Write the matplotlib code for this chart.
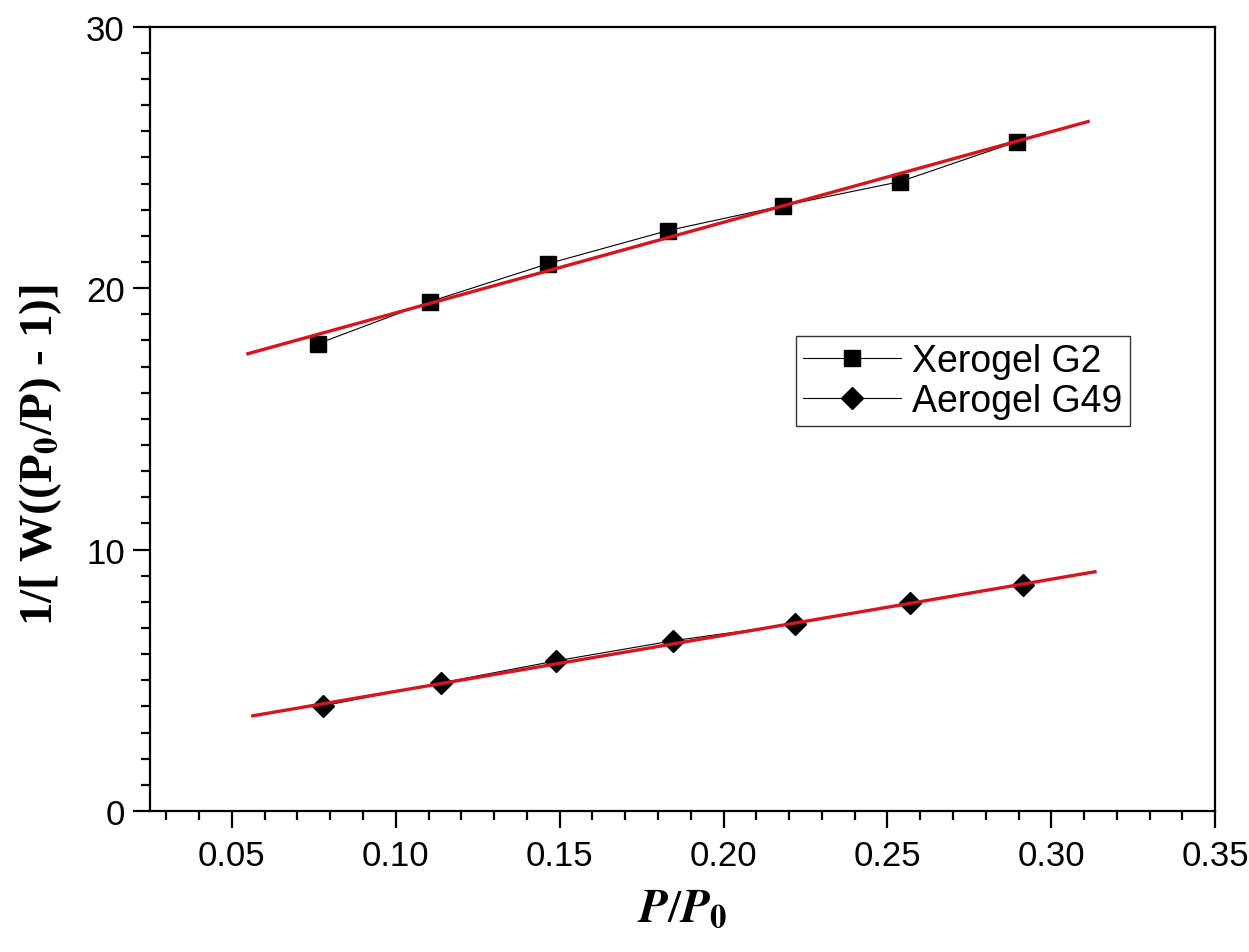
import matplotlib
matplotlib.use("Agg")
import matplotlib.pyplot as plt
from matplotlib.ticker import MultipleLocator

# data
x_xero = [0.0762, 0.1104, 0.1464, 0.1830, 0.2181, 0.2538, 0.2895]
y_xero = [17.87, 19.48, 20.93, 22.20, 23.15, 24.07, 25.60]
x_aero = [0.0778, 0.1138, 0.1489, 0.1846, 0.2218, 0.2569, 0.2914]
y_aero = [4.02, 4.90, 5.74, 6.51, 7.16, 7.96, 8.65]

# linear fit lines (end points)
fit_x_xero = [0.0549, 0.3112]
fit_y_xero = [17.49, 26.37]
fit_x_aero = [0.0564, 0.3133]
fit_y_aero = [3.64, 9.15]

labels = ['Xerogel G2', 'Aerogel G49']

plt.rcParams['font.family'] = ['Liberation Sans', 'DejaVu Sans']
plt.rcParams['mathtext.fontset'] = 'stix'

fig = plt.figure(figsize=(12.49, 9.53), dpi=100)
ax = fig.add_axes([0.120, 0.148, 0.853, 0.823])

red = '#d8141c'
ax.plot(x_xero, y_xero, color='black', lw=0.8, marker='s', ms=11,
        label=labels[0], zorder=3)
ax.plot(x_aero, y_aero, color='black', lw=0.8, marker='D', ms=11,
        label=labels[1], zorder=3)
ax.plot(fit_x_xero, fit_y_xero, color=red, lw=2.4, zorder=4)
ax.plot(fit_x_aero, fit_y_aero, color=red, lw=2.4, zorder=4)

ax.set_xlim(0.025, 0.35)
ax.set_ylim(0, 30)
ax.xaxis.set_major_locator(MultipleLocator(0.05))
ax.xaxis.set_minor_locator(MultipleLocator(0.01))
ax.yaxis.set_major_locator(MultipleLocator(10))
ax.yaxis.set_minor_locator(MultipleLocator(1))
ax.xaxis.set_major_formatter(matplotlib.ticker.FormatStrFormatter('%.2f'))

for s in ax.spines.values():
    s.set_linewidth(1.6)
ax.tick_params(which='major', direction='out', length=12, width=1.6,
               labelsize=25, pad=6)
ax.tick_params(which='minor', direction='out', length=6.5, width=1.6)
ax.tick_params(axis='x', which='major', pad=8)

ax.set_xlabel(r'$\boldsymbol{P}$/$\boldsymbol{P}_{\mathbf{0}}$', fontsize=34,
              family='Liberation Serif', fontweight='bold', labelpad=12)
ax.set_ylabel(r'1/[ W((P$_{\mathbf{0}}$/P) - 1)]', fontsize=34,
              family='Liberation Serif', fontweight='bold')
ax.yaxis.set_label_coords(-0.081, 0.455)

leg = ax.legend(loc='upper left', bbox_to_anchor=(0.606, 0.606), fontsize=27,
                frameon=True, fancybox=False, edgecolor='black',
                handlelength=2.6, handletextpad=0.3, borderpad=0.2,
                labelspacing=0.1, borderaxespad=0)
leg.get_frame().set_linewidth(1.0)

fig.savefig('out.png', dpi=100)
